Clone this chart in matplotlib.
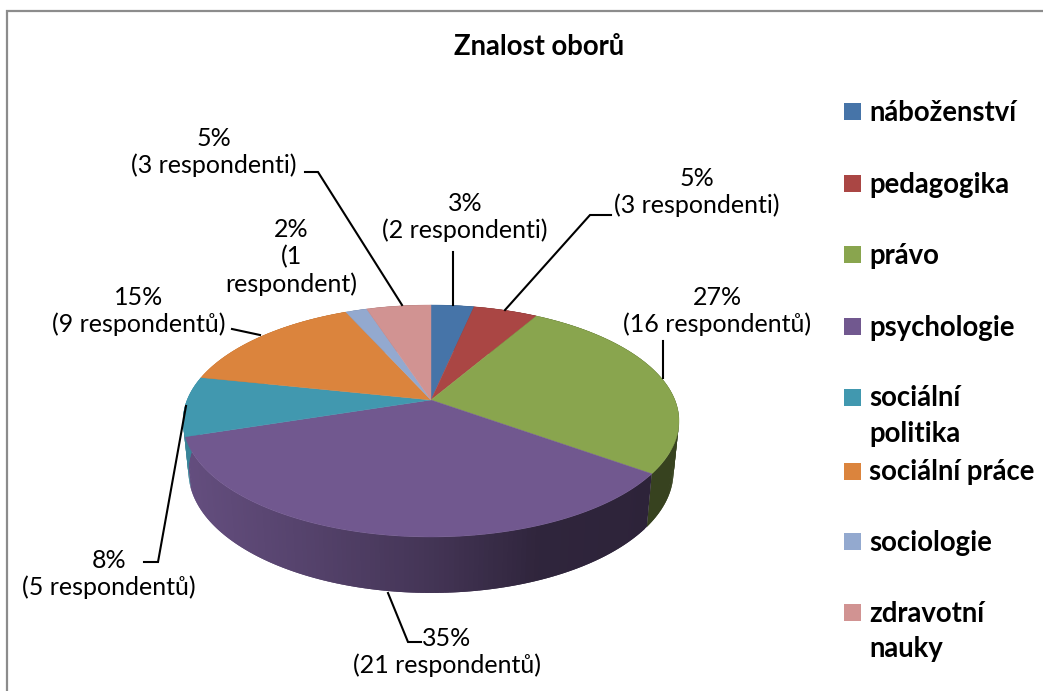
import numpy as np
import matplotlib
matplotlib.use("Agg")
import matplotlib.pyplot as plt
from matplotlib.patches import Rectangle

plt.rcParams["font.family"] = ["Lato", "DejaVu Sans"]

title = "Znalost oborů"
categories = ["náboženství", "pedagogika", "právo", "psychologie",
              "sociální\npolitika", "sociální práce", "sociologie", "zdravotní\nnauky"]
respondents = [2, 3, 16, 21, 5, 9, 1, 3]
labels = ["3%\n(2 respondenti)", "5%\n(3 respondenti)", "27%\n(16 respondentů)",
          "35%\n(21 respondentů)", "8%\n(5 respondentů)", "15%\n(9 respondentů)",
          "2%\n(1\nrespondent)", "5%\n(3 respondenti)"]
colors = ["#4674a8", "#aa4644", "#89a54e", "#71588f", "#4198af", "#db843d", "#93a9cf", "#d19392"]

# label centres and leader lines in pixels
label_pos = [(465, 217), (697, 192), (717, 311), (447, 652), (109, 574), (139, 311), (291, 257), (214, 152)]
leaders = [[(453, 252), (453, 305)],
           [(611, 215), (590, 215), (505, 310)],
           [(663, 341), (663, 378)],
           [(388, 593), (408, 642), (421, 642)],
           [(144, 562), (158, 562), (186, 406)],
           [(232, 329), (260, 335)],
           [],
           [(305, 172), (318, 172), (402, 305)]]
legend_y = [111.5, 183.5, 254.5, 326.5, 397, 471, 541.5, 612.5]
legend_text_shift = 1

# pie geometry in pixels
cx, top_y, lower_y = 431, 400, 449.6
persp = 0.181
top_a, top_b = 243.9, 112.2
low_a, low_b = 238.5, 117.4


def ring(theta, a, b, y0):
    u, v = np.sin(theta), np.cos(theta)
    return cx + a * u / (1 + persp * v), y0 - b * v / (1 + persp * v)


def shade(color, x):
    # side of the pie gets darker to the right
    f = np.interp(x, [190, 300, 430, 540, 650], [0.88, 0.76, 0.60, 0.42, 0.40])
    return tuple(c * f for c in matplotlib.colors.to_rgb(color))


fig = plt.figure(figsize=(10.43, 6.91), dpi=100)
ax = fig.add_axes([0, 0, 1, 1])
ax.set_xlim(0, 1043)
ax.set_ylim(691, 0)
ax.axis("off")

ax.plot([7, 7, 1043], [691, 11, 11], color="#8c8c8c", lw=1.6, solid_joinstyle="miter")

ends = np.cumsum(respondents) / sum(respondents) * 2 * np.pi
starts = np.r_[0, ends[:-1]]

# sides, each strip overlaps the next one so no seams show
for s, e, c in zip(starts, ends, colors):
    th = np.linspace(s, e, max(int((e - s) * 60), 3))
    x1, y1 = ring(th, top_a, top_b, top_y)
    x2, y2 = ring(th, low_a, low_b, lower_y)
    for i in range(len(th) - 1):
        j = min(i + 2, len(th) - 1)
        ax.fill([x1[i], x1[j], x2[j], x2[i]], [y1[i], y1[j], y2[j], y2[i]],
                color=shade(c, (x1[i] + x1[i + 1]) / 2), lw=0)

# top surface
for s, e, c in zip(starts, ends, colors):
    th = np.linspace(s, e, 120)
    x, y = ring(th, top_a, top_b, top_y)
    ax.fill(np.r_[cx, x], np.r_[top_y, y], color=c, lw=0.3)

for line in leaders:
    if line:
        xs, ys = zip(*line)
        ax.plot(xs, ys, color="black", lw=1.5, solid_joinstyle="miter")

for txt, (x, y) in zip(labels, label_pos):
    ax.text(x, y, txt, ha="center", va="center", fontsize=18, color="black", linespacing=1.2)

ax.text(539, 47, title, ha="center", va="center", fontsize=19.8, fontweight="bold")

for name, y, c in zip(categories, legend_y, colors):
    ax.add_patch(Rectangle((844, y - 8.5), 17, 17, color=c, lw=0))
    for i, part in enumerate(name.split("\n")):
        ax.text(869, y + legend_text_shift + i * 35.5, part, ha="left", va="center", fontsize=19.8, fontweight="bold")

fig.savefig("out.png", dpi=100)
